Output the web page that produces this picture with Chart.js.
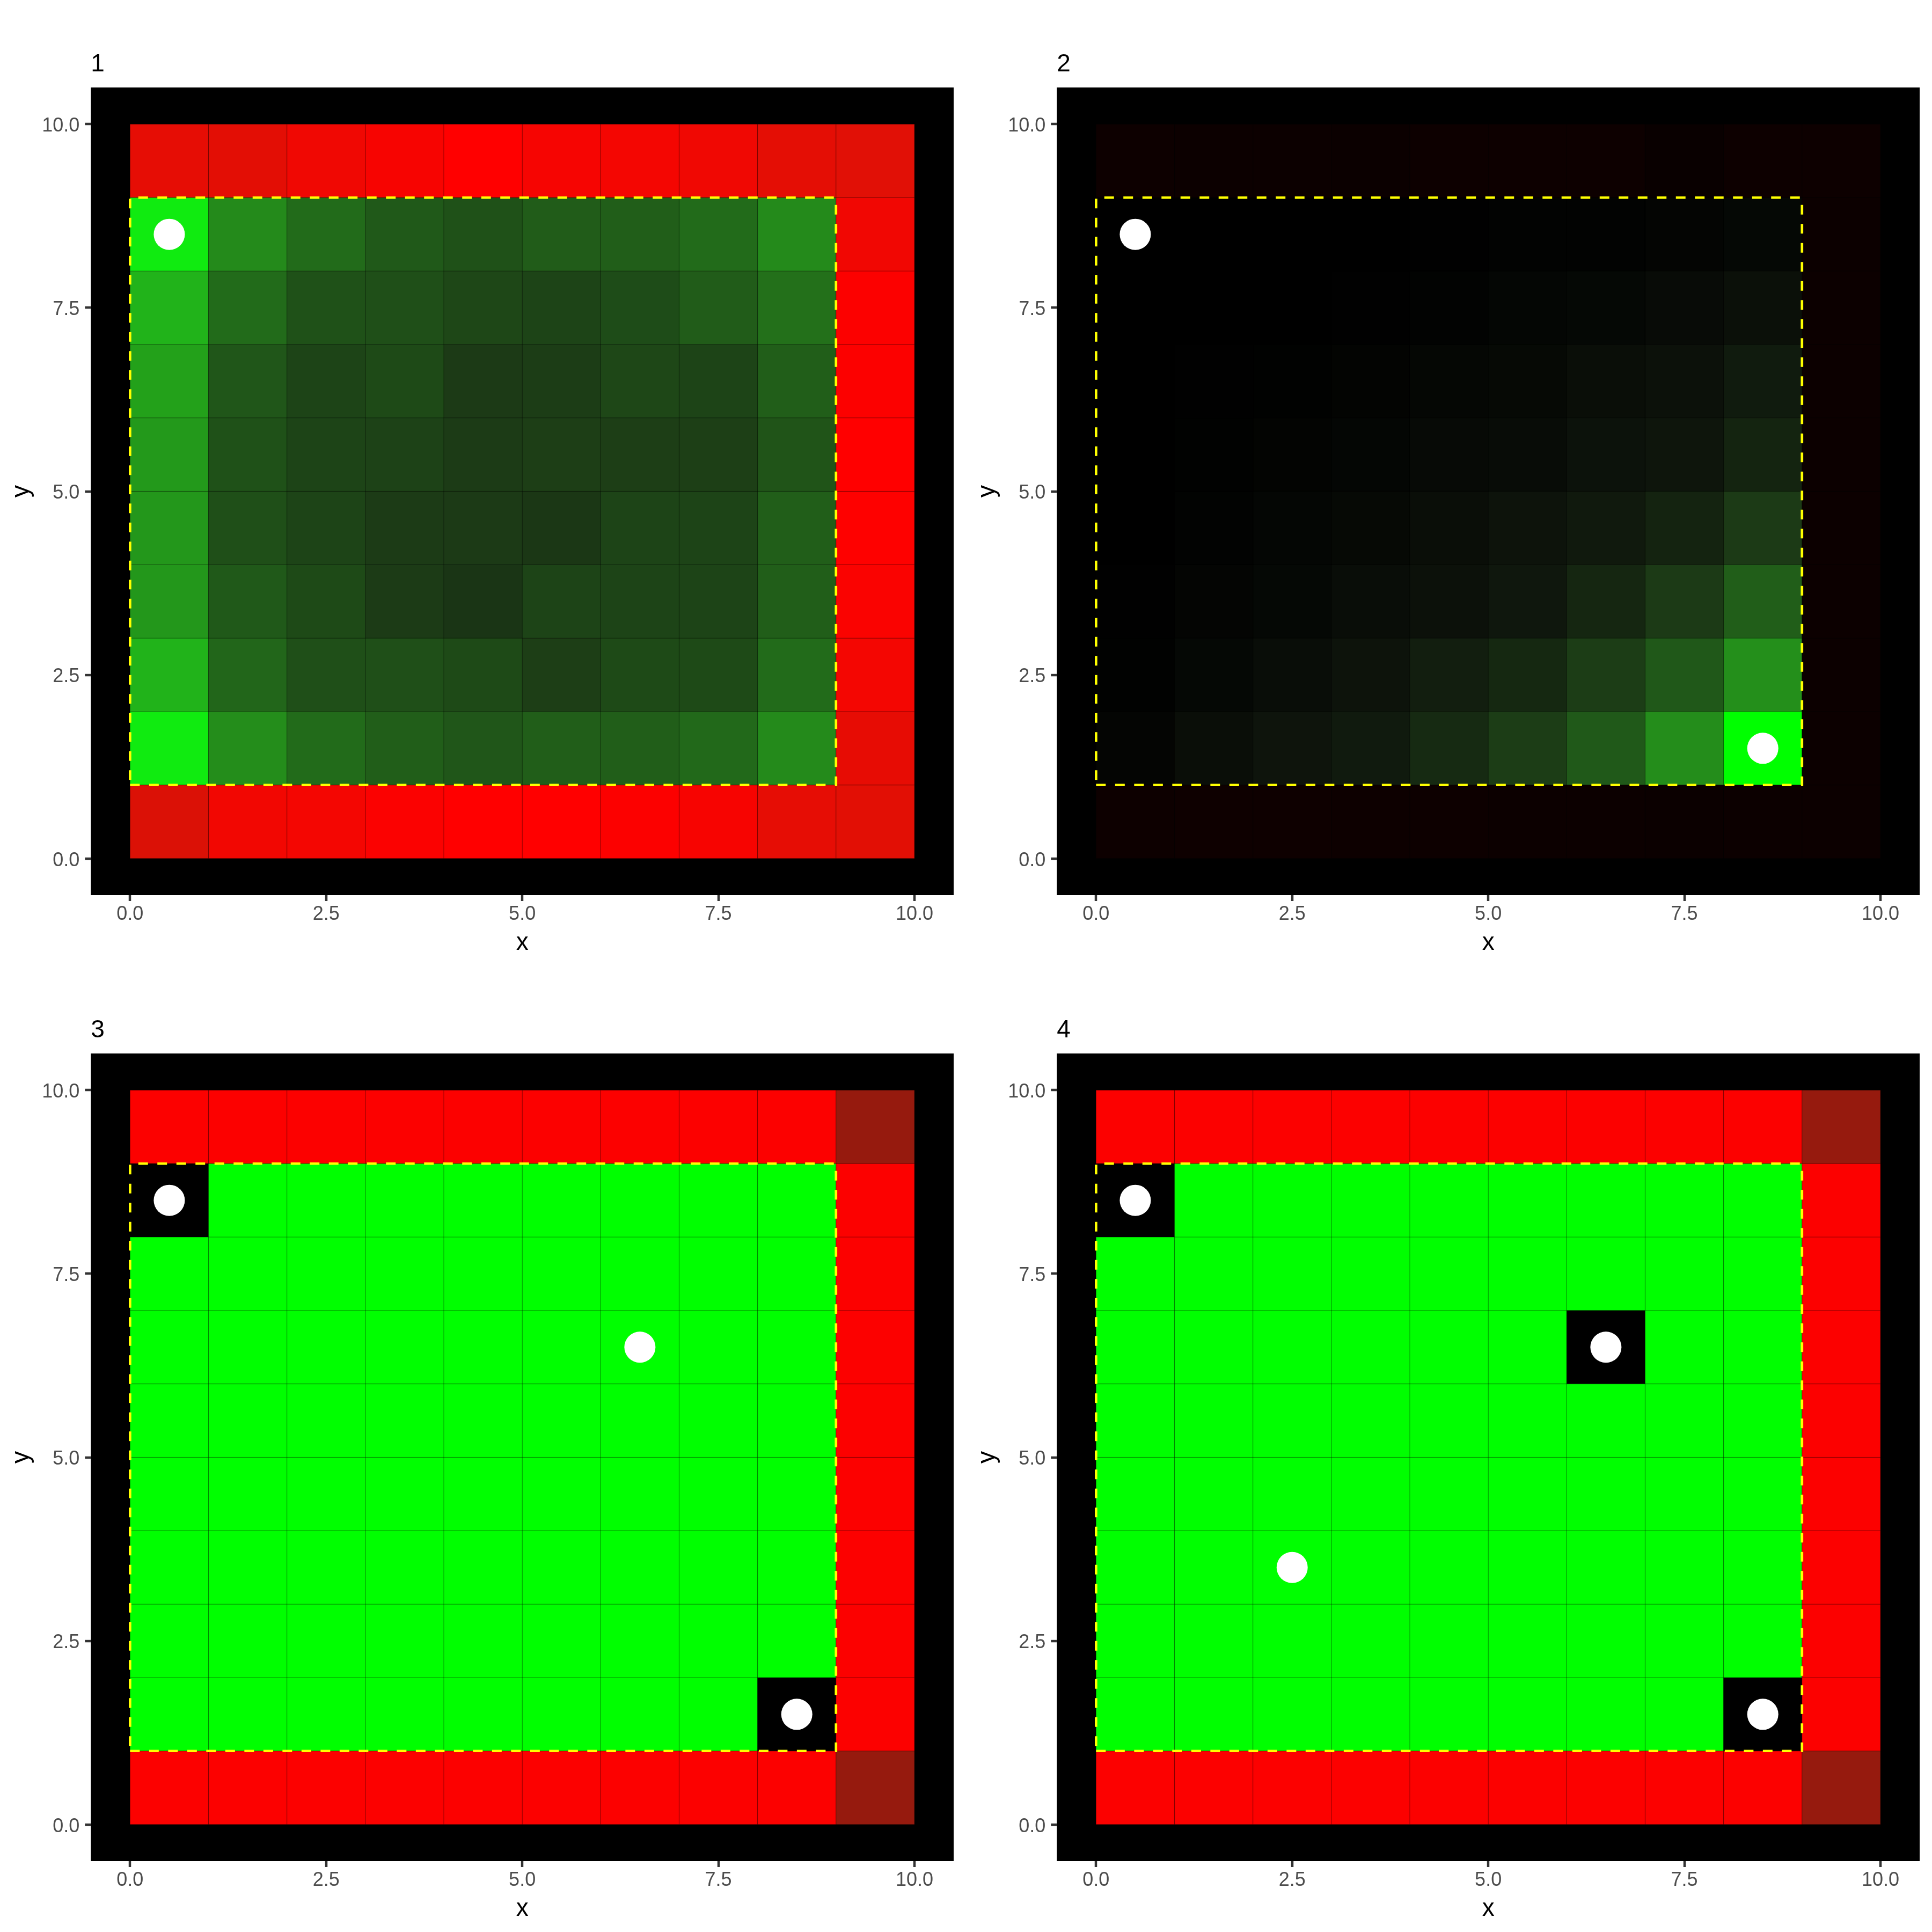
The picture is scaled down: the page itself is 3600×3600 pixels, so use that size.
<!DOCTYPE html>
<html>
<head>
<meta charset="utf-8">
<script src="https://cdn.jsdelivr.net/npm/chart.js@4.4.1/dist/chart.umd.min.js"></script>
<style>
  html, body { margin: 0; padding: 0; background: #ffffff; }
  #wrap { position: relative; width: 3600px; height: 3600px; background: #ffffff; }
  .panel { position: absolute; width: 1800px; height: 1800px; }
  canvas { display: block; }
</style>
</head>
<body>
<div id="wrap">
  <div class="panel" style="left:0;top:0"><canvas id="c1" width="1800" height="1800"></canvas></div>
  <div class="panel" style="left:1800px;top:0"><canvas id="c2" width="1800" height="1800"></canvas></div>
  <div class="panel" style="left:0;top:1800px"><canvas id="c3" width="1800" height="1800"></canvas></div>
  <div class="panel" style="left:1800px;top:1800px"><canvas id="c4" width="1800" height="1800"></canvas></div>
</div>
<script>
// ---------------- DATA ----------------
// Panel titles
const panelTitles = ["1", "2", "3", "4"];
// Axis ticks
const tickValues = [0, 2.5, 5, 7.5, 10];
// Grid cells: rows listed from top (y = 9..10) to bottom (y = 0..1), columns x = 0..9.
// Positive = green intensity, negative = red intensity, 0 = black.
const panel1Values = [
  [-0.90, -0.89, -0.94, -0.97, -1.00, -0.965, -0.955, -0.94, -0.895, -0.88],
  [ 0.92,  0.54,  0.42,  0.35,  0.32,  0.36,  0.37,  0.42,  0.54, -0.945],
  [ 0.70,  0.42,  0.32,  0.31,  0.28,  0.27,  0.30,  0.36,  0.44, -0.99],
  [ 0.63,  0.34,  0.27,  0.29,  0.23,  0.24,  0.28,  0.27,  0.37, -0.99],
  [ 0.60,  0.32,  0.27,  0.26,  0.235, 0.245, 0.245, 0.25,  0.33, -1.00],
  [ 0.59,  0.31,  0.27,  0.235, 0.23,  0.22,  0.27,  0.27,  0.37, -0.995],
  [ 0.59,  0.35,  0.29,  0.235, 0.21,  0.27,  0.27,  0.27,  0.37, -0.98],
  [ 0.70,  0.40,  0.31,  0.31,  0.29,  0.245, 0.29,  0.29,  0.42, -0.955],
  [ 0.92,  0.55,  0.42,  0.37,  0.34,  0.37,  0.37,  0.41,  0.54, -0.905],
  [-0.86, -0.95, -0.955, -0.985, -1.00, -1.00, -0.99, -0.97, -0.90, -0.885]
];
const panel2Values = [
  [-0.055, -0.05, -0.05, -0.045, -0.055, -0.055, -0.055, -0.04, -0.055, -0.055],
  [0,     0,     0,     0,     0.005, 0.01,  0.012, 0.02,  0.03,  -0.05],
  [0,     0,     0,     0.004, 0.012, 0.024, 0.03,  0.044, 0.063, -0.05],
  [0,     0.004, 0.008, 0.016, 0.027, 0.035, 0.055, 0.067, 0.106, -0.05],
  [0,     0.008, 0.016, 0.024, 0.039, 0.047, 0.071, 0.082, 0.145, -0.05],
  [0,     0.012, 0.024, 0.035, 0.055, 0.075, 0.10,  0.14,  0.23,  -0.05],
  [0.004, 0.02,  0.03,  0.05,  0.067, 0.09,  0.15,  0.23,  0.37,  -0.05],
  [0.008, 0.03,  0.05,  0.075, 0.12,  0.16,  0.24,  0.345, 0.56,  -0.05],
  [0.02,  0.055, 0.08,  0.105, 0.165, 0.24,  0.35,  0.55,  1.00,  -0.05],
  [-0.055, -0.06, -0.06, -0.055, -0.055, -0.05, -0.05, -0.045, -0.05, -0.05]
];
const panel3Values = [
  [-0.99, -0.99, -0.99, -0.99, -0.99, -0.99, -0.99, -0.99, -0.99, -0.59],
  [0, 1, 1, 1, 1, 1, 1, 1, 1, -0.99],
  [1, 1, 1, 1, 1, 1, 1, 1, 1, -0.99],
  [1, 1, 1, 1, 1, 1, 1, 1, 1, -0.99],
  [1, 1, 1, 1, 1, 1, 1, 1, 1, -0.99],
  [1, 1, 1, 1, 1, 1, 1, 1, 1, -0.99],
  [1, 1, 1, 1, 1, 1, 1, 1, 1, -0.99],
  [1, 1, 1, 1, 1, 1, 1, 1, 1, -0.99],
  [1, 1, 1, 1, 1, 1, 1, 1, 0, -0.99],
  [-0.99, -0.99, -0.99, -0.99, -0.99, -0.99, -0.99, -0.99, -0.99, -0.59]
];
const panel4Values = [
  [-0.99, -0.99, -0.99, -0.99, -0.99, -0.99, -0.99, -0.99, -0.99, -0.59],
  [0, 1, 1, 1, 1, 1, 1, 1, 1, -0.99],
  [1, 1, 1, 1, 1, 1, 1, 1, 1, -0.99],
  [1, 1, 1, 1, 1, 1, 0, 1, 1, -0.99],
  [1, 1, 1, 1, 1, 1, 1, 1, 1, -0.99],
  [1, 1, 1, 1, 1, 1, 1, 1, 1, -0.99],
  [1, 1, 1, 1, 1, 1, 1, 1, 1, -0.99],
  [1, 1, 1, 1, 1, 1, 1, 1, 1, -0.99],
  [1, 1, 1, 1, 1, 1, 1, 1, 0, -0.99],
  [-0.99, -0.99, -0.99, -0.99, -0.99, -0.99, -0.99, -0.99, -0.99, -0.59]
];
// White markers
const panel1DotsX = [0.5];
const panel1DotsY = [8.5];
const panel2DotsX = [0.5, 8.5];
const panel2DotsY = [8.5, 1.5];
const panel3DotsX = [0.5, 8.5, 6.5];
const panel3DotsY = [8.5, 1.5, 6.5];
const panel4DotsX = [0.5, 8.5, 6.5, 2.5];
const panel4DotsY = [8.5, 1.5, 6.5, 3.5];
// Dashed rectangle corners (data units)
const boxX = [0, 9, 9, 0, 0];
const boxY = [1, 1, 9, 9, 1];

// ---------------- COLOUR MAPS ----------------
const greenStops = [[0,[0,0,0]],[0.08,[14,20,12]],[0.23,[28,58,22]],[0.40,[34,102,26]],
                    [0.54,[36,138,27]],[0.69,[34,176,26]],[0.92,[16,235,16]],[1,[0,255,0]]];
const redStops = [[0,[0,0,0]],[0.06,[14,0,0]],[0.59,[150,26,14]],[0.87,[222,17,6]],[1,[255,0,0]]];
function ramp(stops, t) {
  t = Math.max(0, Math.min(1, t));
  for (let i = 1; i < stops.length; i++) {
    if (t <= stops[i][0]) {
      const [t0, c0] = stops[i-1], [t1, c1] = stops[i];
      const f = (t - t0) / (t1 - t0 || 1);
      return 'rgb(' + c0.map((v, k) => Math.round(v + (c1[k] - v) * f)).join(',') + ')';
    }
  }
  const c = stops[stops.length-1][1];
  return 'rgb(' + c.join(',') + ')';
}
function cellColor(v) { return v < 0 ? ramp(redStops, -v) : ramp(greenStops, v); }

const gridByCanvas = {};

const cellPlugin = {
  id: 'cellGrid',
  beforeDraw(chart) {
    const a = chart.chartArea, ctx = chart.ctx;
    ctx.save();
    ctx.fillStyle = '#000000';
    ctx.fillRect(a.left, a.top, a.right - a.left, a.bottom - a.top);
    ctx.restore();
  },
  beforeDatasetsDraw(chart) {
    const vals = gridByCanvas[chart.canvas.id];
    if (!vals) return;
    const ctx = chart.ctx, xs = chart.scales.x, ys = chart.scales.y;
    const nRows = vals.length;
    ctx.save();
    for (let r = 0; r < nRows; r++) {
      const yBottom = nRows - 1 - r;
      for (let c = 0; c < vals[r].length; c++) {
        const px0 = xs.getPixelForValue(c), px1 = xs.getPixelForValue(c + 1);
        const py0 = ys.getPixelForValue(yBottom + 1), py1 = ys.getPixelForValue(yBottom);
        ctx.fillStyle = cellColor(vals[r][c]);
        ctx.fillRect(px0, py0, px1 - px0, py1 - py0);
      }
    }
    ctx.strokeStyle = 'rgba(0,0,0,0.16)';
    ctx.lineWidth = 1.2;
    for (let r = 0; r < nRows; r++) {
      const yBottom = nRows - 1 - r;
      for (let c = 0; c < vals[r].length; c++) {
        const px0 = xs.getPixelForValue(c), px1 = xs.getPixelForValue(c + 1);
        const py0 = ys.getPixelForValue(yBottom + 1), py1 = ys.getPixelForValue(yBottom);
        ctx.strokeRect(px0, py0, px1 - px0, py1 - py0);
      }
    }
    ctx.restore();
  }
};

const FONT = "'Liberation Sans', Arial, Helvetica, sans-serif";

function makePanel(canvasId, title, values, dotsX, dotsY) {
  gridByCanvas[canvasId] = values;
  const dots = dotsX.map((x, i) => ({x: x, y: dotsY[i]}));
  const box = boxX.map((x, i) => ({x: x, y: boxY[i]}));
  const axis = (titleText, isX) => ({
    type: 'linear',
    min: -0.5,
    max: 10.5,
    afterBuildTicks: (s) => { s.ticks = tickValues.map(v => ({value: v})); },
    ticks: {
      callback: (v) => Number(v).toFixed(1),
      color: '#4d4d4d',
      font: {family: FONT, size: 36},
      padding: isX ? 3.6 : 10,
      labelOffset: isX ? 0 : 4,
      maxRotation: 0,
      autoSkip: false
    },
    grid: {
      display: true,
      drawOnChartArea: false,
      drawTicks: true,
      tickLength: 11,
      tickColor: '#333333',
      tickWidth: 4.5,
      lineWidth: 0
    },
    border: {display: false},
    title: {
      display: true,
      text: titleText,
      color: '#000000',
      font: {family: FONT, size: 46},
      padding: isX ? {top: 0, bottom: 0} : {top: 13, bottom: 0}
    }
  });
  return new Chart(document.getElementById(canvasId), {
    type: 'scatter',
    data: {
      datasets: [
        {
          type: 'scatter',
          data: dots,
          pointRadius: 29,
          pointHoverRadius: 29,
          backgroundColor: '#ffffff',
          borderWidth: 0
        },
        {
          type: 'line',
          data: box,
          borderColor: '#ffff00',
          borderWidth: 4.7,
          borderDash: [18, 17.5],
          pointRadius: 0,
          fill: false,
          tension: 0
        }
      ]
    },
    options: {
      responsive: false,
      animation: false,
      devicePixelRatio: 1,
      events: [],
      layout: {autoPadding: false, padding: {left: 0, right: 23, top: 0, bottom: 15.4}},
      scales: {x: axis('x', true), y: axis('y', false)},
      plugins: {
        legend: {display: false},
        tooltip: {enabled: false},
        title: {
          display: true,
          text: title,
          align: 'start',
          fullSize: false,
          color: '#000000',
          font: {family: FONT, size: 46, weight: 'normal'},
          padding: {top: 92.4, bottom: 15.4}
        }
      }
    },
    plugins: [cellPlugin]
  });
}

makePanel('c1', panelTitles[0], panel1Values, panel1DotsX, panel1DotsY);
makePanel('c2', panelTitles[1], panel2Values, panel2DotsX, panel2DotsY);
makePanel('c3', panelTitles[2], panel3Values, panel3DotsX, panel3DotsY);
makePanel('c4', panelTitles[3], panel4Values, panel4DotsX, panel4DotsY);
</script>
</body>
</html>
